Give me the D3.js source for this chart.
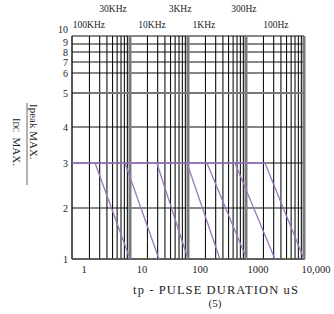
<!DOCTYPE html>
<html><head><meta charset="utf-8">
<script src="https://cdn.jsdelivr.net/npm/d3@7"></script>
<style>body{margin:0;background:#fff}svg{display:block}</style>
</head><body><svg id="c" width="334" height="314"></svg>
<script>
// ---- data ----
const yTickValues = [1,2,3,4,5,6,7,8,9,10];
const xTickValues = [1,10,100,1000,10000];
const xTickLabels = ["1","10","100","1000","10,000"];
const freqNames  = ["100KHz","30KHz","10KHz","3KHz","1KHz","300Hz","100Hz"];
const freqRow    = [1,0,1,0,1,0,1];           // 0 = upper row, 1 = lower row
const freqLabelT = [1.96,5.1,24,73,188,920,3280]; // pulse duration under label centre
const tStart     = [2.5,8.2,29,96,212,645,2120];  // where ratio leaves 3
const tEnd       = [10,31.6,100,355,1030,3150,10000]; // where ratio reaches 1
const plateau = 3, floorVal = 1;

// ---- layout ----
const svg = d3.select("#c");
const L = 72, R = 304, T = 36, B = 259;
const x = d3.scaleLog().domain([1,10000]).range([L,R]);
const y = d3.scaleLinear()
  .domain([1,2,3,4,5,6,7,8,9,10])
  .range([B,208,163,127,93,73,62,52,44,T]);

const serif = "'Liberation Serif','Times New Roman',serif";

// vertical minor grid
const minor = [];
for (let d=1; d<10000; d*=10) for (let k=2;k<=9;k++) minor.push(d*k);
svg.append("g").selectAll("line").data(minor).join("line")
  .attr("x1",d=>x(d)).attr("x2",d=>x(d)).attr("y1",T).attr("y2",B)
  .attr("stroke","#111").attr("stroke-width",1.1);
// horizontal grid
svg.append("g").selectAll("line").data(yTickValues).join("line")
  .attr("x1",L).attr("x2",R).attr("y1",d=>y(d)).attr("y2",d=>y(d))
  .attr("stroke",d=>d===5?"#777":"#111").attr("stroke-width",d=>d===5?2.2:1.1);
// decade lines (thick grey)
svg.append("g").selectAll("line").data([10,100,1000,10000]).join("line")
  .attr("x1",d=>x(d)).attr("x2",d=>x(d)).attr("y1",T).attr("y2",B)
  .attr("stroke","#7a7a7a").attr("stroke-width",3);
// frame left / bottom
svg.append("line").attr("x1",L).attr("x2",L).attr("y1",T).attr("y2",B).attr("stroke","#111").attr("stroke-width",1.4);
svg.append("line").attr("x1",L).attr("x2",R+1).attr("y1",B).attr("y2",B).attr("stroke","#555").attr("stroke-width",1.6);

// data lines
const purple = "#9d76c4";
svg.append("line").attr("x1",x(1)).attr("x2",x(tStart[tStart.length-1]))
  .attr("y1",y(plateau)).attr("y2",y(plateau))
  .attr("stroke",purple).attr("stroke-width",1.4);
svg.append("g").selectAll("line").data(freqNames).join("line")
  .attr("x1",(d,i)=>x(tStart[i])).attr("y1",y(plateau))
  .attr("x2",(d,i)=>x(tEnd[i])).attr("y2",y(floorVal))
  .attr("stroke",purple).attr("stroke-width",1.3);

// y tick labels
const yLabelShift = v => v===10 ? -3 : v===9 ? 1.5 : (v===8||v===7) ? 3.5 : 4;
svg.append("g").selectAll("text").data(yTickValues).join("text")
  .attr("x",68).attr("y",d=>y(d)+yLabelShift(d))
  .attr("text-anchor","end").attr("font-family",serif).attr("font-size",10)
  .attr("fill","#222").text(d=>d);
// x tick labels
svg.append("g").selectAll("text").data(xTickValues).join("text")
  .attr("x",d=>x(d)+12).attr("y",273)
  .attr("text-anchor","middle").attr("font-family",serif).attr("font-size",10.5)
  .attr("fill","#222").text((d,i)=>xTickLabels[i]);
// frequency labels
svg.append("g").selectAll("text").data(freqNames).join("text")
  .attr("x",(d,i)=>x(freqLabelT[i])).attr("y",(d,i)=>freqRow[i]?28:12)
  .attr("text-anchor","middle").attr("font-family",serif).attr("font-size",9.5)
  .attr("fill","#222").text(d=>d);

// x title
svg.append("text").attr("x",216).attr("y",294).attr("text-anchor","middle")
  .attr("font-family",serif).attr("font-size",12.5).attr("letter-spacing",1.1)
  .attr("fill","#222").text("tp - PULSE DURATION uS");
svg.append("text").attr("x",215).attr("y",307).attr("text-anchor","middle")
  .attr("font-family",serif).attr("font-size",11).attr("fill","#222").text("(5)");

// y title (fraction, rotated)
const yt = svg.append("g").attr("transform","translate(27,144) rotate(90)");
yt.append("line").attr("x1",-41).attr("x2",41).attr("y1",0).attr("y2",0)
  .attr("stroke","#666").attr("stroke-width",1);
yt.append("text").attr("x",-40).attr("y",-3).attr("font-family",serif)
  .attr("font-size",11).attr("fill","#222").text("Ipeak MAX.");
const den = yt.append("text").attr("x",-26).attr("y",14).attr("font-family",serif)
  .attr("font-size",11).attr("fill","#222");
den.append("tspan").text("I");
den.append("tspan").attr("font-size",7.5).text("DC");
den.append("tspan").text("\u00a0\u00a0MAX.");
</script></body></html>
